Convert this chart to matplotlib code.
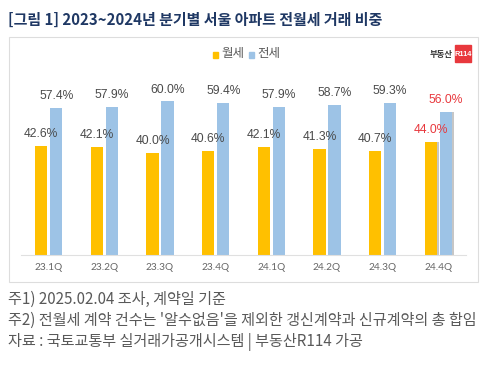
import matplotlib
matplotlib.use("Agg")
import matplotlib.pyplot as plt
from matplotlib.patches import Rectangle
import numpy as np

plt.rcParams['font.family'] = ['Noto Sans CJK KR', 'DejaVu Sans']

categories = ["23.1Q", "23.2Q", "23.3Q", "23.4Q", "24.1Q", "24.2Q", "24.3Q", "24.4Q"]
monthly = [42.6, 42.1, 40.0, 40.6, 42.1, 41.3, 40.7, 44.0]   # 월세
jeonse = [57.4, 57.9, 60.0, 59.4, 57.9, 58.7, 59.3, 56.0]    # 전세

C_M = "#FFC000"
C_J = "#9DC3E6"
C_LBL = "#4A4A4A"
C_RED = "#E8383D"

fig = plt.figure(figsize=(5.0, 3.66), dpi=100)
W, H = 500, 366

def fx(px): return px / W
def fy(py): return 1 - py / H

# outer box
fig.patches.append(Rectangle((fx(9), fy(282)), fx(478) - fx(9), fy(37) - fy(282),
                             transform=fig.transFigure, facecolor="none",
                             edgecolor="#DDDDDD", lw=0.8, zorder=-5))

ax = fig.add_axes([fx(21), fy(255), fx(466) - fx(21), fy(40) - fy(255)])
ax.set_xlim(-0.5, 7.5)
ax.set_ylim(0, 84)
ax.patch.set_alpha(0)

x = np.arange(len(categories))
bw = 0.22
off = 0.135
n = len(categories)
# shadow for last group
ax.bar(x[-1:] - off + 0.04, monthly[-1:], bw, color="#A0A0A0", alpha=0.6, zorder=1)
ax.bar(x[-1:] + off + 0.04, jeonse[-1:], bw, color="#A0A0A0", alpha=0.6, zorder=1)
ax.bar(x - off, monthly, bw, color=C_M, zorder=2)
ax.bar(x + off, jeonse, bw, color=C_J, zorder=2)

for i in range(n):
    col = C_RED if i == n - 1 else C_LBL
    ax.text(x[i] - off, monthly[i] + 2.3, f"{monthly[i]:.1f}%", ha="center", va="bottom",
            fontsize=8.7, color=col, family=["Liberation Sans", "DejaVu Sans"])
    ax.text(x[i] + off, jeonse[i] + 2.3, f"{jeonse[i]:.1f}%", ha="center", va="bottom",
            fontsize=8.7, color=col, family=["Liberation Sans", "DejaVu Sans"])

for s in ["top", "right", "left"]:
    ax.spines[s].set_visible(False)
ax.spines["bottom"].set_color("#E0E0E0")
ax.spines["bottom"].set_linewidth(0.8)
ax.set_yticks([])
ax.set_xticks(x)
ax.set_xticklabels(categories, fontsize=7.3, color="#666666", family=["Lato", "DejaVu Sans"])
ax.tick_params(axis="x", length=0, pad=6)

# legend
fig.patches.append(Rectangle((fx(213), fy(57.5)), fx(5) - fx(0), fy(0) - fy(5),
                             transform=fig.transFigure, color=C_M))
fig.text(fx(221), fy(54), "월세", fontsize=9, color="#595959", va="center", ha="left")
fig.patches.append(Rectangle((fx(249), fy(57.5)), fx(5) - fx(0), fy(0) - fy(5),
                             transform=fig.transFigure, color=C_J))
fig.text(fx(257), fy(54), "전세", fontsize=9, color="#595959", va="center", ha="left")

# logo
fig.text(fx(453), fy(54), "부동산", fontsize=6, color="#333333", va="center", ha="right",
         fontweight="bold")
fig.patches.append(Rectangle((fx(455), fy(62)), fx(16) - fx(0), fy(0) - fy(17),
                             transform=fig.transFigure, color=C_RED))
fig.text(fx(463), fy(54), "R114", fontsize=5.3, color="white", va="center", ha="center",
         fontweight="bold", family=["Liberation Sans", "DejaVu Sans"])

# title
fig.text(fx(8), fy(20), "[그림 1] 2023~2024년 분기별 서울 아파트 전월세 거래 비중",
         fontsize=10.8, fontweight="bold", color="#1F3864", va="center", ha="left")

# notes
notes = ["주1) 2025.02.04 조사, 계약일 기준",
         "주2) 전월세 계약 건수는 '알수없음'을 제외한 갱신계약과 신규계약의 총 합임",
         "자료 : 국토교통부 실거래가공개시스템 | 부동산R114 가공"]
for k, t in enumerate(notes):
    fig.text(fx(8), fy(299 + 21.5 * k), t, fontsize=10.9, color="#595959", va="center", ha="left")

fig.savefig("out.png", dpi=100)
